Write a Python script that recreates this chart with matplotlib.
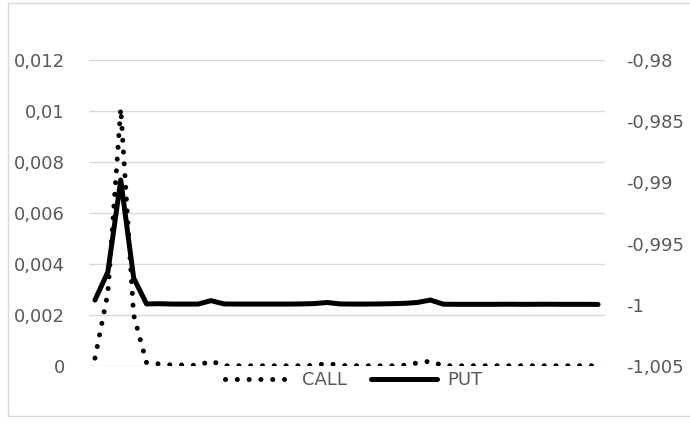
import matplotlib
matplotlib.use("Agg")
import matplotlib.pyplot as plt
from matplotlib.patches import Rectangle

# series values, one point per category (40 categories, unlabelled)
call = [0.00031, 0.00286, 0.0101, 0.0020, 0.00013, 0.00008, 0.00004, 0.00004,
        0.00002, 0.0002, 0.00001, 0.00001, 0.00001, 0.00001, 0.00001, 0.00001,
        0.00001, 0.00002, 0.0001, 0.00002, 0.00001, 0.00001, 0.00001, 0.00001,
        0.00003, 0.00012, 0.00019, 0.00001, 0.00001, 0.00001, 0.00001, 0.00001,
        0.00001, 0.00001, 0.00001, 0.00001, 0.00001, 0.00001, 0.00001, 0.00001]
put = [-0.99961, -0.99732, -0.98980, -0.99781, -0.99993, -0.99991, -0.99994, -0.99994,
       -0.99994, -0.99966, -0.99993, -0.99994, -0.99994, -0.99994, -0.99994, -0.99994,
       -0.99993, -0.99990, -0.99981, -0.99993, -0.99994, -0.99994, -0.99993, -0.99991,
       -0.99988, -0.99981, -0.99961, -0.99995, -0.99996, -0.99996, -0.99996, -0.99996,
       -0.99995, -0.99996, -0.99996, -0.99995, -0.99996, -0.99996, -0.99996, -0.99997]
left_ticks = [0, 0.002, 0.004, 0.006, 0.008, 0.01, 0.012]
right_ticks = [-1.005, -1.0, -0.995, -0.99, -0.985, -0.98]

TXT = "#595959"
GRID = "#d9d9d9"
FS = 13

plt.rcParams["font.family"] = ["DejaVu Sans"]


def comma(v):
    return f"{v:g}".replace(".", ",")


fig = plt.figure(figsize=(6.9, 4.23), dpi=100)
W, H = 690.0, 423.0
ax = fig.add_axes([88.5 / W, (H - 366) / H, 516 / W, 306 / H])
ax2 = ax.twinx()

x = list(range(len(call)))
lw = 3.6
l1, = ax.plot(x, call, color="black", lw=lw, ls=(0, (0.01, 2.35)),
              dash_capstyle="round", label="CALL")
l2, = ax2.plot(x, put, color="black", lw=lw, solid_capstyle="round",
               solid_joinstyle="round", label="PUT")

ax.set_xlim(-0.5, len(call) - 0.5)
ax.set_ylim(left_ticks[0], left_ticks[-1])
ax2.set_ylim(right_ticks[0], right_ticks[-1])
ax.set_yticks(left_ticks, [comma(v) for v in left_ticks])
ax2.set_yticks(right_ticks, [comma(v) for v in right_ticks])
ax.set_xticks([])

for a in (ax, ax2):
    for s in a.spines.values():
        s.set_visible(False)
    a.tick_params(axis="y", length=0, labelsize=FS, labelcolor=TXT)
ax.tick_params(axis="y", pad=17)
ax2.tick_params(axis="y", pad=15.5)
ax.yaxis.grid(True, color=GRID, lw=1.0)
ax.set_axisbelow(True)

fig.legend(handles=[l1, l2], loc="center", bbox_to_anchor=(354 / W, 1 - 380 / H),
           ncol=2, frameon=False, fontsize=FS, labelcolor=TXT, handlelength=3.7,
           handletextpad=0.55, columnspacing=1.3, borderpad=0)

# chart area border
fig.patches.append(Rectangle((8 / W, (H - 416) / H), 700 / W, 413 / H,
                             transform=fig.transFigure, fill=False,
                             edgecolor=GRID, lw=1.0))

fig.savefig("out.png", dpi=100)
